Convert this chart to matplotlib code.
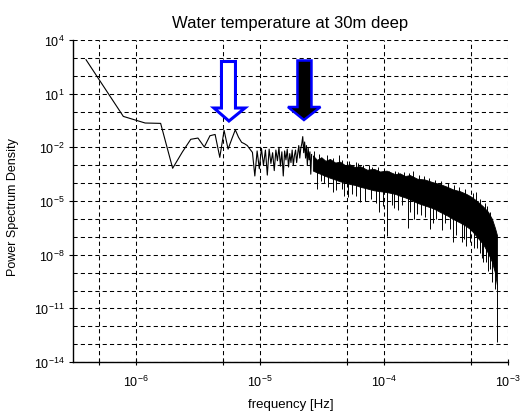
import matplotlib
matplotlib.use("Agg")
import matplotlib.pyplot as plt
from matplotlib.patches import Polygon
from matplotlib.ticker import FixedLocator, NullFormatter, LogFormatterSciNotation
import numpy as np

plt.rcParams['font.family'] = ['Liberation Sans', 'DejaVu Sans']
plt.rcParams['mathtext.fontset'] = 'custom'
plt.rcParams['mathtext.rm'] = 'Liberation Sans'
plt.rcParams['mathtext.it'] = 'Liberation Sans:italic'

# first harmonics of the spectrum, frequency in microhertz
freq_low_uhz = [0.395, 0.79, 1.185, 1.58, 1.975, 2.37, 2.765, 3.16, 3.555, 3.95,
                4.345, 4.74, 5.135, 5.53, 5.925, 6.32, 6.715, 7.11, 7.505, 7.90,
                8.295, 8.69, 9.085, 9.48, 9.875, 10.27, 10.665, 11.06, 11.455, 11.85,
                12.245, 12.64, 13.035, 13.43, 13.825, 14.22, 14.615, 15.01, 15.405, 15.80,
                16.195, 16.59, 16.985, 17.38, 17.775, 18.17, 18.565, 18.96, 19.355, 19.75,
                20.145, 20.54, 20.935, 21.33, 21.725, 22.12, 22.515, 22.91, 23.305, 23.70,
                24.095, 24.49, 24.885, 25.28, 25.675, 26.07]
# log10 of the PSD at those harmonics
psd_low_exp = [2.90, -0.27, -0.64, -0.66, -3.17, -2.25, -1.55, -1.48, -1.98, -1.35,
               -1.28, -2.56, -1.05, -2.10, -1.53, -1.02, -1.44, -1.72, -1.80, -1.90,
               -2.10, -2.28, -3.60, -2.20, -3.20, -2.05, -3.00, -2.15, -3.55, -2.10,
               -2.90, -2.30, -3.30, -2.15, -2.75, -2.00, -3.05, -2.25, -3.60, -2.20,
               -2.70, -2.10, -3.10, -2.35, -2.85, -2.15, -3.00, -2.45, -2.15, -2.85,
               -2.35, -1.90, -2.60, -2.05, -1.80, -1.40, -2.30, -1.70, -2.60, -1.90,
               -3.00, -2.05, -2.70, -2.25, -3.50, -2.40]

# dense high-frequency part: envelope of the noise band (Hz, log10 PSD)
band_freq = [2.67e-5, 2.88e-5, 3.12e-5, 3.37e-5, 3.67e-5, 4.04e-5, 4.42e-5, 4.86e-5,
             5.3e-5, 5.83e-5, 6.4e-5, 7.3e-5, 8.3e-5, 9.28e-5, 1.05e-4, 1.23e-4,
             1.34e-4, 1.48e-4, 1.62e-4, 1.85e-4, 2.14e-4, 2.48e-4, 2.82e-4, 3.22e-4,
             3.6e-4, 4.1e-4, 4.6e-4, 5.03e-4, 5.62e-4, 6.29e-4, 6.9e-4, 7.43e-4,
             7.85e-4, 8.15e-4]
band_top = [-2.45, -2.7, -2.55, -2.75, -2.65, -2.85, -2.8, -3.0,
            -2.95, -3.1, -3.05, -3.25, -3.2, -3.35, -3.3, -3.5,
            -3.45, -3.6, -3.55, -3.75, -3.8, -3.95, -4.05, -4.2,
            -4.35, -4.45, -4.6, -4.75, -5.0, -5.3, -5.6, -6.0,
            -6.5, -6.9]
band_bot = [-3.3, -3.4, -3.5, -3.6, -3.7, -3.8, -3.9, -3.95,
            -4.05, -4.1, -4.2, -4.3, -4.4, -4.45, -4.5, -4.6,
            -4.7, -4.8, -4.9, -5.1, -5.25, -5.4, -5.6, -5.8,
            -6.0, -6.2, -6.4, -6.6, -7.0, -7.4, -7.9, -8.4,
            -9.0, -9.7]

# single spikes sticking out of the band (Hz, log10 bottom, log10 top)
spike_freq = [2.75e-5, 2.9e-5, 3.0e-5, 3.1e-5, 3.3e-5, 3.45e-5, 3.55e-5, 3.88e-5,
              3.9e-5, 4.1e-5, 4.3e-5, 4.55e-5, 4.6e-5, 4.8e-5, 5.15e-5, 5.2e-5,
              5.5e-5, 5.9e-5, 6.0e-5, 6.2e-5, 6.4e-5, 6.8e-5, 7.0e-5, 7.6e-5,
              7.8e-5, 8.0e-5, 8.6e-5, 9.0e-5, 9.2e-5, 9.8e-5, 1.0e-4, 1.05e-4,
              1.1e-4, 1.15e-4, 1.2e-4, 1.22e-4, 1.29e-4, 1.3e-4, 1.4e-4, 1.45e-4,
              1.55e-4, 1.6e-4, 1.63e-4, 1.71e-4, 1.75e-4, 1.85e-4, 1.9e-4, 2.0e-4,
              2.1e-4, 2.14e-4, 2.3e-4, 2.35e-4, 2.5e-4, 2.6e-4, 2.65e-4, 2.9e-4,
              2.95e-4, 3.1e-4, 3.3e-4, 3.4e-4, 3.6e-4, 3.7e-4, 3.8e-4, 4.0e-4,
              4.25e-4, 4.4e-4, 4.5e-4, 4.6e-4, 4.9e-4, 5.2e-4, 5.3e-4, 5.5e-4,
              5.6e-4, 5.9e-4, 6.0e-4, 6.2e-4, 6.3e-4, 6.5e-4, 6.6e-4, 6.8e-4,
              6.9e-4, 7.1e-4, 7.2e-4, 7.4e-4, 7.8e-4, 8.2e-4]
spike_lo = [-2.9, -4.3, -3.0, -3.9, -4.0, -3.0, -4.2, -4.5,
            -3.1, -4.4, -3.2, -4.3, -3.3, -4.7, -4.8, -3.4,
            -4.6, -4.7, -3.5, -3.5, -5.06, -3.6, -5.0, -3.7,
            -4.9, -3.7, -5.1, -3.8, -5.6, -5.3, -3.9, -6.95,
            -3.9, -5.2, -5.4, -4.0, -5.5, -4.0, -5.2, -4.1,
            -6.5, -4.1, -5.6, -4.2, -6.0, -5.7, -4.3, -5.8,
            -4.4, -5.9, -4.5, -6.56, -6.2, -4.6, -6.0, -4.7,
            -6.6, -6.2, -4.8, -6.56, -7.3, -4.9, -6.9, -5.0,
            -7.3, -7.1, -5.2, -7.5, -7.3, -5.5, -7.6, -5.6,
            -7.6, -7.9, -5.8, -8.2, -8.4, -6.0, -8.4, -6.2,
            -8.9, -8.8, -6.5, -9.5, -9.9, -12.9]
spike_hi = [-2.2, -3.3, -2.35, -3.3, -3.4, -2.4, -3.5, -3.6,
            -2.6, -3.7, -2.45, -3.8, -2.7, -3.9, -4.0, -2.75,
            -4.0, -4.0, -2.8, -2.9, -4.1, -3.0, -4.2, -3.0,
            -4.3, -3.1, -4.3, -3.1, -4.4, -4.4, -3.15, -4.4,
            -3.3, -4.5, -4.5, -3.3, -4.6, -3.35, -4.7, -3.4,
            -4.7, -3.45, -4.8, -3.3, -4.9, -5.0, -3.55, -5.1,
            -3.6, -5.1, -3.7, -5.2, -5.3, -3.8, -5.4, -3.9,
            -5.5, -5.6, -4.0, -5.7, -5.9, -4.1, -6.0, -4.2,
            -6.1, -6.2, -4.35, -6.3, -6.4, -4.55, -6.6, -4.5,
            -6.9, -7.0, -4.9, -7.2, -7.3, -5.1, -7.5, -5.3,
            -7.8, -8.0, -5.6, -8.3, -8.8, -9.5]

fig = plt.figure(figsize=(5.21, 4.14), dpi=100)
ax = fig.add_axes([0.140, 0.123, 0.835, 0.778])

ax.plot(np.array(freq_low_uhz) * 1e-6, 10.0 ** np.array(psd_low_exp),
        color='black', linewidth=0.8)
ax.fill_between(band_freq, 10.0 ** np.array(band_bot), 10.0 ** np.array(band_top),
                color='black', linewidth=0.6)
ax.vlines(spike_freq, 10.0 ** np.array(spike_lo), 10.0 ** np.array(spike_hi),
          color='black', linewidth=0.7)

ax.set_xscale('log')
ax.set_yscale('log')
ax.set_xlim(3.1e-7, 1e-3)
ax.set_ylim(1e-14, 1e4)

ax.xaxis.set_major_locator(FixedLocator([1e-6, 1e-5, 1e-4, 1e-3]))
ax.xaxis.set_minor_locator(FixedLocator([5e-7, 5e-6, 5e-5, 5e-4]))
ax.xaxis.set_major_formatter(LogFormatterSciNotation())
ax.xaxis.set_minor_formatter(NullFormatter())
ax.yaxis.set_major_locator(FixedLocator([10.0 ** e for e in range(-14, 5, 3)]))
ax.yaxis.set_minor_locator(FixedLocator([10.0 ** e for e in range(-14, 5) if (e + 14) % 3 != 0]))
ax.yaxis.set_major_formatter(LogFormatterSciNotation())
ax.yaxis.set_minor_formatter(NullFormatter())

ax.grid(True, which='both', color='black', linestyle=(0, (4, 3)), linewidth=0.75)
ax.tick_params(axis='x', which='both', direction='inout', length=5, width=0.8,
               labelsize=9, pad=6)
ax.tick_params(axis='y', which='major', direction='out', length=3, width=0.8,
               labelsize=9, pad=3)
ax.tick_params(axis='y', which='minor', length=0)

for side in ['top', 'right']:
    ax.spines[side].set_visible(False)
for side in ['left', 'bottom']:
    ax.spines[side].set_linewidth(1.0)

ax.set_title('Water temperature at 30m deep', fontsize=12, pad=9)
ax.set_ylabel('Power Spectrum Density', fontsize=9)
ax.yaxis.set_label_coords(-0.125, 0.485)
ax.set_xlabel('frequency [Hz]', fontsize=9.5)
ax.xaxis.set_label_coords(0.5, -0.112)

# the two marker arrows (axes fraction)
hollow = [(0.3414, 0.9332), (0.3736, 0.9332), (0.3736, 0.7888), (0.3954, 0.7888),
          (0.3586, 0.7484), (0.3241, 0.7888), (0.3414, 0.7888)]
solid = [(0.5161, 0.9363), (0.5483, 0.9363), (0.5483, 0.7919), (0.5690, 0.7919),
         (0.5310, 0.7516), (0.4943, 0.7919), (0.5161, 0.7919)]
ax.add_patch(Polygon(hollow, closed=True, transform=ax.transAxes, facecolor='white',
                     edgecolor='#0000ff', linewidth=2.2, joinstyle='miter', zorder=5))
ax.add_patch(Polygon(solid, closed=True, transform=ax.transAxes, facecolor='black',
                     edgecolor='#0000ff', linewidth=1.8, joinstyle='miter', zorder=5))

fig.savefig('out.png', dpi=100)
